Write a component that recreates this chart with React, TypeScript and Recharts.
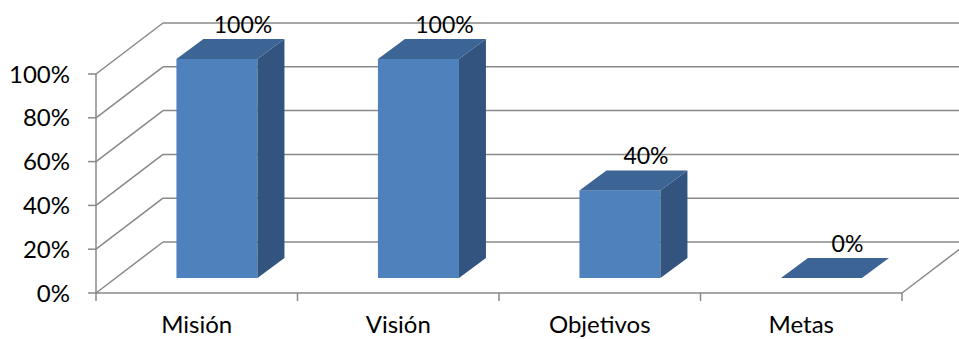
import { Bar, BarChart, CartesianGrid, LabelList, XAxis, YAxis } from 'recharts';

const categories = ['Misión', 'Visión', 'Objetivos', 'Metas'];
const values = [100, 100, 40, 0];
const yTicks = [0, 20, 40, 60, 80, 100];

const data = categories.map((name, i) => ({ name, value: values[i] }));

const GRID = '#898989';
const FONT = 'Lato, "Open Sans", sans-serif';
const FRONT = '#4F81BD';
const TOP = '#3C6494';
const SIDE = '#32547F';

// depth of the floor / side wall in the oblique projection
const WALL_DX = 67;
const WALL_DY = -51;
// bars stand a bit inside the floor, and have their own depth
const SHIFT_X = 20;
const SHIFT_Y = -15;
const BAR_DX = 27;
const BAR_DY = -20;

function GridLine(props: any) {
  const { x1, x2, y1, index } = props;
  const bx = x1 + WALL_DX;
  const by = y1 + WALL_DY;
  const s = { stroke: GRID, strokeWidth: 1.5, fill: 'none' };
  return (
    <g>
      <line x1={x1} y1={y1} x2={bx} y2={by} {...s} />
      <line x1={bx} y1={by} x2={x2 + WALL_DX} y2={by} {...s} />
      {index === 0 && (
        <>
          <line x1={x2} y1={y1} x2={x2 + WALL_DX} y2={by} {...s} />
          {categories.map((_, i) => {
            const tx = x1 + ((x2 - x1) * (i + 1)) / categories.length;
            return <line key={i} x1={tx} y1={y1} x2={tx} y2={y1 + 8} {...s} />;
          })}
          <line x1={x1} y1={y1} x2={x1} y2={y1 + 8} {...s} />
        </>
      )}
    </g>
  );
}

function Bar3D(props: any) {
  const { x, y, width } = props;
  const h = Math.max(props.height || 0, 0);
  const fx = x + SHIFT_X;
  const fy = y + SHIFT_Y;
  const w = width;
  return (
    <g>
      {h > 0 && <rect x={fx} y={fy} width={w} height={h} fill={FRONT} />}
      {h > 0 && (
        <polygon
          points={`${fx + w},${fy} ${fx + w + BAR_DX},${fy + BAR_DY} ${fx + w + BAR_DX},${fy + h + BAR_DY} ${fx + w},${fy + h}`}
          fill={SIDE}
        />
      )}
      <polygon
        points={`${fx},${fy} ${fx + BAR_DX},${fy + BAR_DY} ${fx + w + BAR_DX},${fy + BAR_DY} ${fx + w},${fy}`}
        fill={TOP}
      />
    </g>
  );
}

function TopLabel(props: any) {
  const { x, y, width, value } = props;
  const cx = x + width / 2 + SHIFT_X + 26;
  const base = y + SHIFT_Y + BAR_DY - 6;
  return (
    <text x={cx} y={base} textAnchor="middle" fill="#000" fontSize={23} fontFamily={FONT}>
      {value}%
    </text>
  );
}

function CategoryTick(props: any) {
  const { x, y, payload } = props;
  return (
    <text x={x} y={y + 40} textAnchor="middle" fill="#000" fontSize={24} fontFamily={FONT}>
      {payload.value}
    </text>
  );
}

export default function App() {
  return (
    <div style={{ position: 'absolute', left: 0, top: 0, background: '#fff' }}>
      <BarChart
        width={959}
        height={339}
        data={data}
        margin={{ top: 74, right: 57, bottom: 0, left: 0 }}
        barCategoryGap="30%"
      >
        <CartesianGrid vertical={false} horizontal={GridLine} />
        <XAxis
          dataKey="name"
          height={46}
          axisLine={{ stroke: GRID, strokeWidth: 1.5 }}
          tickLine={false}
          tickSize={0}
          tickMargin={0}
          tick={CategoryTick}
          interval={0}
        />
        <YAxis
          width={96}
          domain={[0, 100]}
          ticks={yTicks}
          interval={0}
          tickFormatter={(v) => `${v}%`}
          axisLine={{ stroke: GRID, strokeWidth: 1.5 }}
          tickLine={{ stroke: GRID, strokeWidth: 1.5 }}
          tickSize={8}
          tickMargin={18}
          tick={{ fill: '#000', fontSize: 24, fontFamily: FONT }}
        />
        <Bar dataKey="value" shape={Bar3D} isAnimationActive={false}>
          <LabelList dataKey="value" content={TopLabel} />
        </Bar>
      </BarChart>
    </div>
  );
}
